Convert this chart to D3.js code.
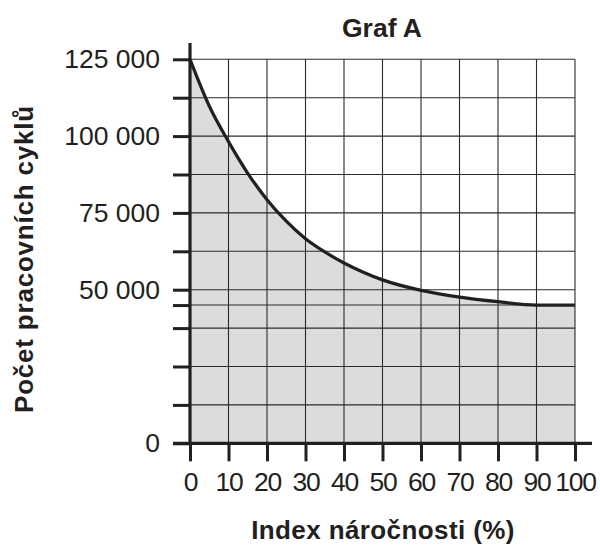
<!DOCTYPE html>
<html>
<head>
<meta charset="utf-8">
<script src="https://cdn.jsdelivr.net/npm/d3@7"></script>
<style>
  body { margin: 0; background: #fff; }
  svg { display: block; font-family: "Liberation Sans", Arial, Helvetica, sans-serif; }
</style>
</head>
<body>
<svg width="600" height="546"></svg>
<script>
// values
const indexValues = [0, 5, 10, 15, 20, 25, 30, 35, 40, 45, 50, 60, 70, 80, 90, 100];
const cycleValues = [125000, 109800, 98200, 87900, 79300, 72300, 66600, 62300, 58700, 55700, 53200, 49800, 47600, 46100, 45000, 45000];
const xTicks = [0, 10, 20, 30, 40, 50, 60, 70, 80, 90, 100];
const yTicks = [0, 12500, 25000, 37500, 45000, 50000, 62500, 75000, 87500, 100000, 112500, 125000];
const yLabelled = [0, 50000, 75000, 100000, 125000];

const points = indexValues.map((d, i) => ({ x: d, y: cycleValues[i] }));

const svg = d3.select("svg");
const ink = "#231f20";

const x = d3.scaleLinear().domain([0, 100]).range([190, 575]);
const y = d3.scaleLinear().domain([0, 125000]).range([443.3, 59.3]);

const fmt = d3.formatLocale({ decimal: ",", thousands: " ", grouping: [3], currency: ["", ""] }).format(",");

// shaded area under the curve
const area = d3.area()
  .x(d => x(d.x))
  .y0(y(0))
  .y1(d => y(d.y))
  .curve(d3.curveMonotoneX);

svg.append("path")
  .datum(points)
  .attr("fill", "#dcdcdf")
  .attr("d", area);

// grid
const grid = svg.append("g").attr("stroke", "#2a2a2a").attr("stroke-width", 1.1);
grid.selectAll(".v")
  .data(xTicks.slice(1))
  .enter().append("line")
  .attr("x1", d => x(d)).attr("x2", d => x(d))
  .attr("y1", y(0)).attr("y2", y(125000));
grid.selectAll(".h")
  .data(yTicks.slice(1))
  .enter().append("line")
  .attr("x1", x(0)).attr("x2", x(100))
  .attr("y1", d => y(d)).attr("y2", d => y(d));

// curve
const line = d3.line()
  .x(d => x(d.x))
  .y(d => y(d.y))
  .curve(d3.curveMonotoneX);

svg.append("path")
  .datum(points)
  .attr("fill", "none")
  .attr("stroke", ink)
  .attr("stroke-width", 3.2)
  .attr("d", line);

// axes
const yAxis = svg.append("g")
  .attr("transform", `translate(${x(0)},0)`)
  .call(d3.axisLeft(y)
    .tickValues(yTicks)
    .tickSize(17)
    .tickPadding(13)
    .tickFormat(d => yLabelled.includes(d) ? fmt(d) : ""));

const xAxis = svg.append("g")
  .attr("transform", `translate(0,${y(0)})`)
  .call(d3.axisBottom(x)
    .tickValues(xTicks)
    .tickSize(18)
    .tickPadding(11));

[yAxis, xAxis].forEach(g => {
  g.select(".domain").remove();
  g.selectAll(".tick line").attr("stroke", ink).attr("stroke-width", 3);
  g.selectAll(".tick text")
    .attr("fill", ink)
    .attr("font-size", 26.5)
    .style("font-family", "'Liberation Sans', Arial, sans-serif");
});
xAxis.selectAll(".tick text").attr("letter-spacing", -1.3);

svg.append("line")
  .attr("x1", x(0)).attr("x2", x(0))
  .attr("y1", 43).attr("y2", y(0))
  .attr("stroke", ink).attr("stroke-width", 3.2);

svg.append("line")
  .attr("x1", 173).attr("x2", 592)
  .attr("y1", y(0)).attr("y2", y(0))
  .attr("stroke", ink).attr("stroke-width", 3.2);

// titles
svg.append("text")
  .attr("x", 382).attr("y", 37)
  .attr("text-anchor", "middle")
  .attr("font-size", 26.5).attr("font-weight", "bold")
  .attr("fill", ink)
  .text("Graf A");

svg.append("text")
  .attr("x", 383).attr("y", 539)
  .attr("text-anchor", "middle")
  .attr("font-size", 26).attr("font-weight", "bold")
  .attr("letter-spacing", 0.4)
  .attr("fill", ink)
  .text("Index náročnosti (%)");

svg.append("text")
  .attr("transform", "translate(33,259) rotate(-90)")
  .attr("text-anchor", "middle")
  .attr("font-size", 26).attr("font-weight", "bold")
  .attr("letter-spacing", 0.8)
  .attr("fill", ink)
  .text("Počet pracovních cyklů");
</script>
</body>
</html>
